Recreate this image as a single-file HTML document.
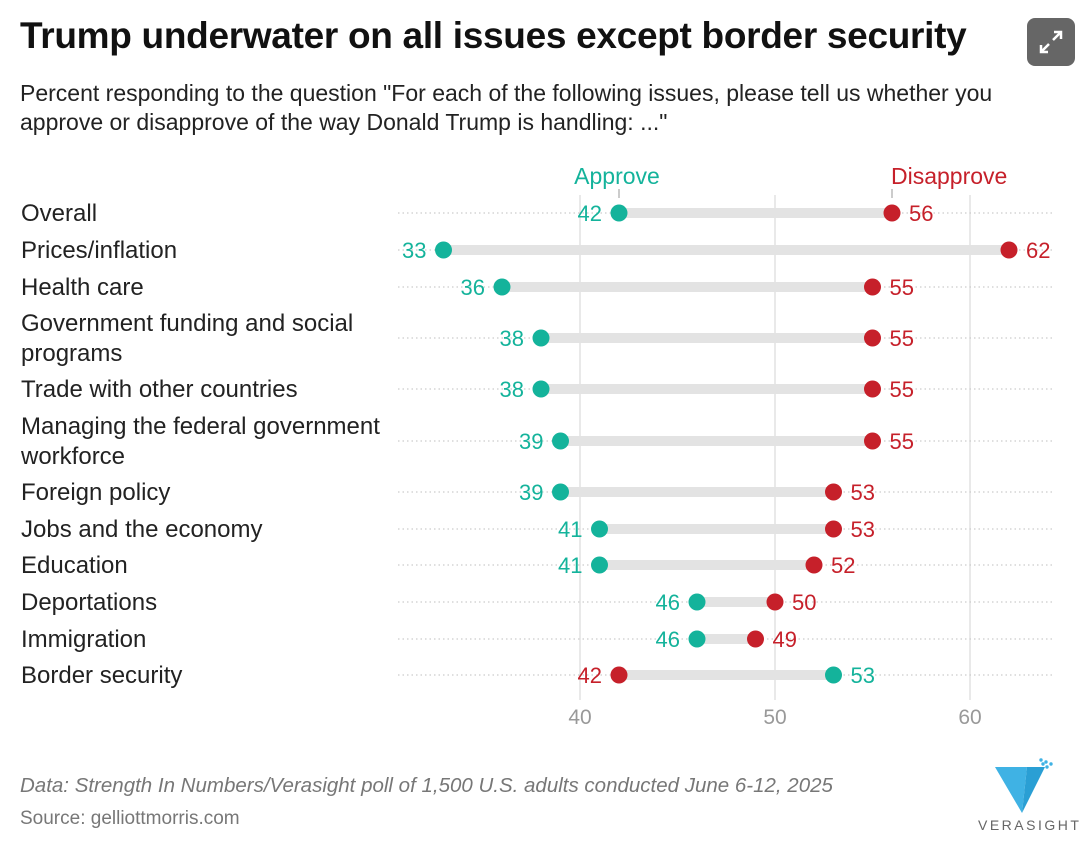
<!DOCTYPE html>
<html><head><meta charset="utf-8"><style>
body{margin:0;background:#fff;font-family:"Liberation Sans",Arial,sans-serif;}
#wrap{position:relative;width:1092px;height:850px;overflow:hidden}
h1{position:absolute;left:20px;top:15px;margin:0;font-size:37px;font-weight:bold;color:#111;letter-spacing:-0.3px}
.sub{position:absolute;left:20px;top:79px;font-size:23px;line-height:29px;color:#222;width:1045px}
.foot{position:absolute;left:20px;color:#777}
</style></head><body><div id="wrap">
<h1>Trump underwater on all issues except border security</h1>
<div class="sub">Percent responding to the question "For each of the following issues, please tell us whether you approve or disapprove of the way Donald Trump is handling: ..."</div>
<div style="position:absolute;left:1027px;top:18px;width:48px;height:48px;border-radius:8px;background:#666">
<svg width="48" height="48"><g stroke="#fff" stroke-width="2.5" fill="none"><path d="M27 14h7v7M34 14l-8 8M21 34h-7v-7M14 34l8-8"/></g></svg></div>
<svg id="chart" width="1092" height="850" style="position:absolute;left:0;top:0"></svg>
<div class="foot" style="top:774px;font-style:italic;font-size:20.5px">Data: Strength In Numbers/Verasight poll of 1,500 U.S. adults conducted June 6-12, 2025</div>
<div class="foot" style="top:808px;font-size:19px">Source: gelliottmorris.com</div>
<div style="position:absolute;left:975px;top:755px;width:110px;height:90px">
<svg width="110" height="62"><polygon points="20,12 52,12 47,58" fill="#3fb2e4"/><polygon points="52,12 70,12 47,58" fill="#2a9fd4"/><g fill="#3fb2e4"><circle cx="66" cy="5" r="1.7"/><circle cx="71" cy="7" r="1.7"/><circle cx="76" cy="9" r="1.7"/><circle cx="72" cy="12" r="1.7"/><circle cx="68" cy="9" r="1.7"/></g></svg>
<div style="position:absolute;left:3px;top:62px;font-size:14px;letter-spacing:2.5px;color:#666">VERASIGHT</div></div>
</div>
<script>
const categories=["Overall","Prices/inflation","Health care","Government funding and social|programs","Trade with other countries","Managing the federal government|workforce","Foreign policy","Jobs and the economy","Education","Deportations","Immigration","Border security"];
const approve=[42,33,36,38,38,39,39,41,41,46,46,53];
const disapprove=[56,62,55,55,55,55,53,53,52,50,49,42];
const ticks=[40,50,60];
const rowY=[213,250,287,338,389,441,492,529,565,602,639,675];
const TEAL="#14b39b",RED="#c6202a";
const svg=document.getElementById('chart');const NS="http://www.w3.org/2000/svg";
function x(v){return 580+(v-40)*19.5;}
function mk(t,a,p){const e=document.createElementNS(NS,t);for(const k in a)e.setAttribute(k,a[k]);(p||svg).appendChild(e);return e;}
ticks.forEach(t=>{const l=mk('line',{x1:x(t),x2:x(t),y1:195,y2:700,stroke:'#e2e2e2','stroke-width':1.5});


const tx=mk('text',{x:x(t),y:724,'text-anchor':'middle','font-size':21,fill:'#999'});tx.textContent=t;

});
categories.forEach((c,i)=>{const y=rowY[i];
const g=mk('g',{});


mk('line',{x1:398,x2:1055,y1:y,y2:y,stroke:'#ccc','stroke-width':1.2,'stroke-dasharray':'1.5 3'},g);
const parts=c.split('|');const lab=mk('text',{x:21,y:parts.length>1?y-7:y+8,'font-size':24,fill:'#222'},g);


parts.forEach((p,j)=>{const ts=mk('tspan',{x:21,dy:j?30:0},lab);ts.textContent=p;});
const a=approve[i],d=disapprove[i];
mk('line',{x1:x(Math.min(a,d)),x2:x(Math.max(a,d)),y1:y,y2:y,stroke:'#e3e3e3','stroke-width':10},g);
[[a,TEAL,'approve'],[d,RED,'disapprove']].forEach(([v,col,n])=>{
const other=n==='approve'?d:a;const left=v<other;
const c=mk('circle',{cx:x(v),cy:y,r:8.5,fill:col},g);


const t=mk('text',{x:left?x(v)-17:x(v)+17,y:y+8,'font-size':22,fill:col,'text-anchor':left?'end':'start'},g);t.textContent=v;

});});
const la=mk('text',{x:x(approve[0])-2,y:184,'font-size':23,fill:TEAL,'text-anchor':'middle'});la.textContent='Approve';


mk('line',{x1:x(approve[0]),x2:x(approve[0]),y1:189,y2:198,stroke:'#999'});
const ld=mk('text',{x:x(disapprove[0])-1,y:184,'font-size':23,fill:RED,'text-anchor':'start'});ld.textContent='Disapprove';


mk('line',{x1:x(disapprove[0]),x2:x(disapprove[0]),y1:189,y2:198,stroke:'#999'});
</script></body></html>
